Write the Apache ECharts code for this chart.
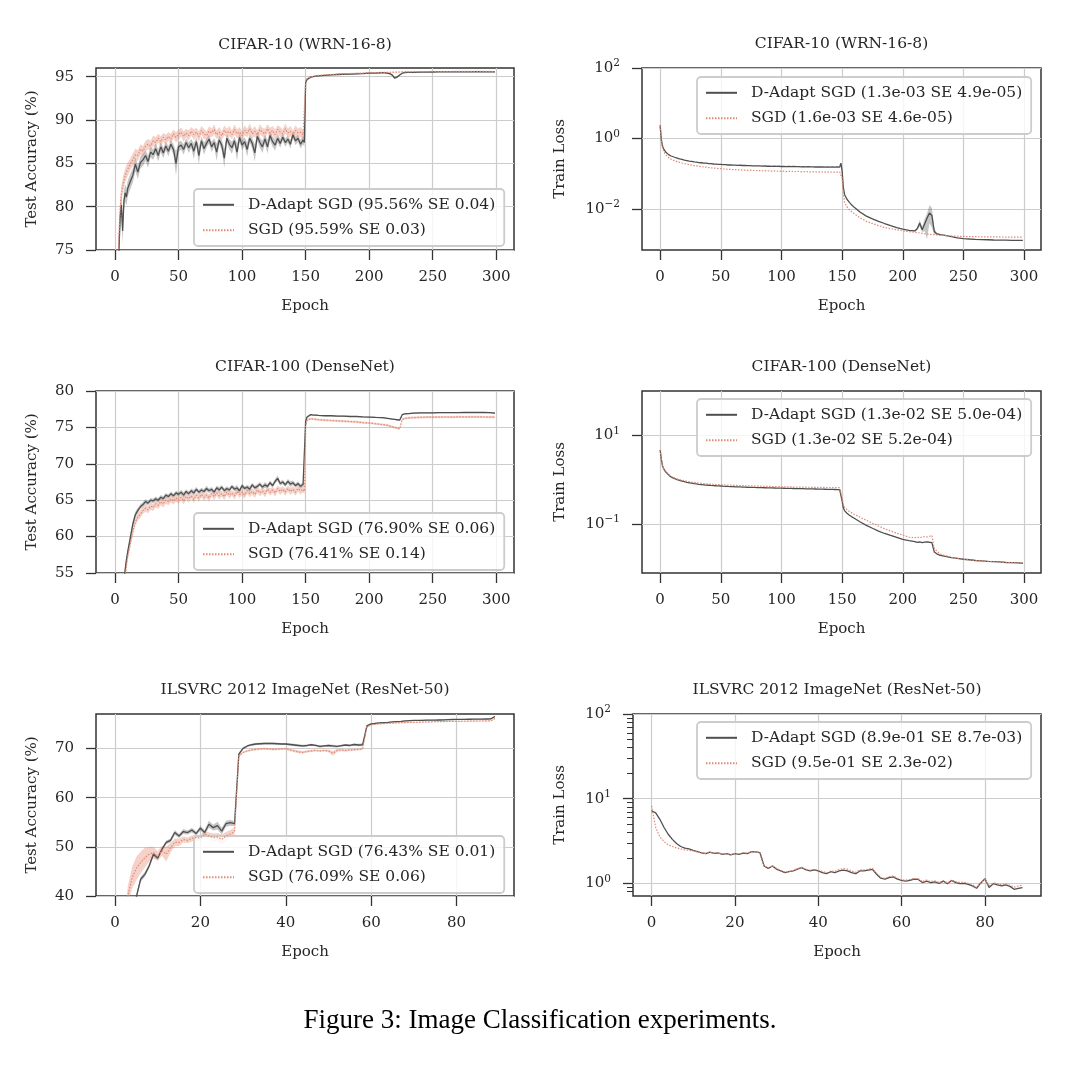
<!DOCTYPE html>
<html><head><meta charset="utf-8">
<script src="https://cdn.jsdelivr.net/npm/echarts@6/dist/echarts.min.js"></script>
<style>html,body{margin:0;padding:0;background:#fff}#c{width:1080px;height:1066px}</style>
</head><body><div id="c"></div><script>
// ---------------- DATA ----------------
const cifarEpochs = [0,1,2,3,4,5,6,7,8,9,10,
12,14,16,18,20,22,24,26,28,30,32,34,36,38,40,42,44,46,48,
50,52,54,56,58,60,62,64,66,68,70,72,74,76,78,80,82,84,86,88,
90,92,94,96,98,100,102,104,106,108,110,112,114,116,118,120,122,124,126,128,
130,132,134,136,138,140,142,144,146,148,
149,150,151,152,154,156,158,160,
165,170,175,180,185,190,195,200,205,
210,212,214,216,218,220,222,224,226,228,
231,235,
240,245,250,255,260,265,270,275,280,285,290,295,299];

// CIFAR-10 test accuracy
const c10AccDadapt = [40,55,66,74.5,78.6,80.2,77.2,80.6,81.6,81.1,82.1,
82.9,83.6,84.9,84.0,85.1,85.4,85.9,85.2,86.3,86.0,86.7,85.9,86.9,86.2,87.0,86.4,87.2,86.6,85.0,
86.9,87.1,86.6,87.4,86.8,87.3,86.4,87.5,85.9,87.6,86.7,87.3,87.8,86.9,87.4,86.3,87.7,87.1,85.6,87.9,
87.2,86.8,87.6,86.3,88.0,87.1,87.5,86.6,87.9,87.3,86.2,88.1,87.4,86.9,87.8,86.9,88.2,87.5,87.1,87.9,
87.3,88.0,87.4,87.8,87.2,88.3,87.6,87.9,87.2,87.7,
87.4,94.3,94.65,94.8,94.95,95.0,95.05,95.1,
95.15,95.2,95.25,95.28,95.3,95.33,95.36,95.4,95.42,
95.45,95.45,95.42,95.35,95.2,94.85,94.95,95.2,95.4,95.48,
95.5,95.5,
95.52,95.53,95.54,95.55,95.55,95.55,95.56,95.56,95.56,95.57,95.56,95.56,95.56];
const c10AccDadaptSE = [1.5,1.5,1.5,1.4,1.3,1.2,1.5,1.2,1.0,1.0,0.9,
0.9,0.8,0.8,0.8,0.7,0.7,0.6,0.7,0.6,0.6,0.6,0.7,0.6,0.6,0.5,0.6,0.5,0.6,1.4,
0.6,0.5,0.6,0.5,0.6,0.5,0.9,0.5,1.0,0.5,0.7,0.5,0.5,0.6,0.5,1.0,0.5,0.6,1.1,0.5,
0.6,0.7,0.5,1.0,0.5,0.6,0.5,0.8,0.5,0.6,1.0,0.5,0.6,0.7,0.5,0.8,0.5,0.6,0.6,0.5,
0.5,0.4,0.5,0.4,0.5,0.4,0.5,0.4,0.5,0.5,
0.5,0.2,0.1,0.08,0.06,0.05,0.05,0.04,
0.04,0.04,0.04,0.04,0.04,0.04,0.04,0.04,0.04,
0.04,0.04,0.05,0.06,0.1,0.15,0.12,0.08,0.05,0.04,
0.04,0.04,
0.04,0.04,0.04,0.04,0.04,0.04,0.04,0.04,0.04,0.04,0.04,0.04,0.04];
const c10AccSgd = [45,62,71,76.2,79.6,81.5,82.3,83.0,83.6,84.0,84.3,
84.9,85.4,86.0,85.9,86.6,86.4,87.0,87.2,87.0,87.6,87.4,87.9,87.5,88.0,87.7,88.1,87.8,88.4,88.0,
88.3,88.6,88.1,88.5,88.2,88.7,88.3,88.6,88.1,88.8,88.4,88.2,88.7,88.5,88.9,88.3,88.6,88.2,88.8,88.5,
88.7,88.3,88.9,88.4,88.6,88.2,88.8,88.5,89.0,88.4,88.7,88.3,88.9,88.6,88.4,89.0,88.5,88.8,88.3,88.9,
88.6,88.4,89.0,88.5,88.7,88.3,88.8,88.5,88.6,88.3,
88.4,94.4,94.75,94.9,95.0,95.05,95.1,95.15,
95.2,95.25,95.3,95.33,95.36,95.4,95.42,95.45,95.47,
95.5,95.5,95.5,95.51,95.52,95.52,95.53,95.54,95.55,95.55,
95.56,95.57,
95.58,95.58,95.59,95.59,95.59,95.6,95.6,95.6,95.6,95.6,95.6,95.6,95.59];
const c10AccSgdSE = [2.0,2.0,1.8,1.6,1.2,1.0,0.9,0.9,0.8,0.8,0.8,
0.7,0.7,0.7,0.6,0.6,0.6,0.6,0.6,0.6,0.6,0.6,0.5,0.6,0.5,0.6,0.5,0.6,0.5,0.6,
0.6,0.5,0.6,0.5,0.6,0.5,0.6,0.5,0.6,0.5,0.6,0.5,0.6,0.5,0.6,0.5,0.6,0.5,0.6,0.5,
0.6,0.5,0.6,0.5,0.6,0.5,0.6,0.5,0.6,0.5,0.6,0.5,0.6,0.5,0.6,0.5,0.6,0.5,0.6,0.5,
0.6,0.5,0.6,0.5,0.6,0.5,0.6,0.5,0.6,0.5,
0.5,0.15,0.08,0.06,0.05,0.04,0.04,0.04,
0.03,0.03,0.03,0.03,0.03,0.03,0.03,0.03,0.03,
0.03,0.03,0.03,0.03,0.03,0.03,0.03,0.03,0.03,0.03,
0.03,0.03,
0.03,0.03,0.03,0.03,0.03,0.03,0.03,0.03,0.03,0.03,0.03,0.03,0.03];

// CIFAR-10 train loss
const c10LossDadapt = [2.38,0.93,0.6,0.5,0.44,0.4,0.37,0.35,0.33,0.32,0.31,
0.295,0.28,0.266,0.256,0.245,0.238,0.23,0.225,0.218,0.214,0.208,0.206,0.201,0.2,0.195,0.194,0.19,0.189,0.186,
0.185,0.182,0.182,0.178,0.179,0.176,0.177,0.174,0.175,0.172,0.173,0.17,0.171,0.168,0.169,0.167,0.168,0.165,0.167,0.164,
0.166,0.163,0.165,0.162,0.164,0.161,0.163,0.16,0.162,0.159,0.161,0.159,0.16,0.158,0.16,0.157,0.159,0.157,0.158,0.156,
0.158,0.156,0.157,0.155,0.157,0.155,0.156,0.154,0.156,0.155,
0.2,0.12,0.042,0.026,0.019,0.0155,0.013,0.0112,
0.0081,0.0063,0.0053,0.0045,0.0039,0.0034,0.003,0.0027,0.0025,
0.0024,0.0028,0.004,0.0026,0.0038,0.0055,0.0078,0.0066,0.0023,0.002,
0.0019,0.0018,
0.00165,0.00152,0.00146,0.00142,0.00139,0.00137,0.00135,0.00133,0.00132,0.00131,0.0013,0.0013,0.00129];
const c10LossSgd = [2.3,0.85,0.55,0.43,0.37,0.33,0.31,0.29,0.27,0.26,0.25,
0.235,0.222,0.212,0.203,0.195,0.188,0.182,0.177,0.171,0.168,0.163,0.16,0.156,0.154,0.15,0.148,0.145,0.144,0.141,
0.14,0.137,0.137,0.134,0.134,0.131,0.132,0.129,0.13,0.127,0.128,0.125,0.127,0.124,0.125,0.123,0.124,0.121,0.123,0.12,
0.122,0.119,0.121,0.118,0.12,0.117,0.119,0.116,0.118,0.116,0.117,0.115,0.117,0.114,0.116,0.114,0.115,0.113,0.115,0.113,
0.114,0.112,0.114,0.112,0.113,0.111,0.113,0.111,0.112,0.112,
0.112,0.075,0.027,0.016,0.0115,0.0095,0.0083,0.0074,
0.0056,0.0045,0.0039,0.0034,0.003,0.0028,0.0026,0.0024,0.0023,
0.0022,0.00215,0.0021,0.00205,0.002,0.00197,0.00194,0.0019,0.00187,0.00184,
0.0018,0.00177,
0.00173,0.0017,0.00168,0.00166,0.00165,0.00164,0.00163,0.00162,0.00162,0.00161,0.00161,0.0016,0.0016];
const c10LossBandEpochs = [205,210,212,214,216,218,220,222,224,226,228];
const c10LossDadaptLo = [0.0024,0.0023,0.0026,0.0032,0.0022,0.0024,0.0014,0.004,0.003,0.0019,0.0019];
const c10LossDadaptHi = [0.0026,0.0025,0.003,0.005,0.0031,0.0052,0.0075,0.0128,0.011,0.0028,0.0021];

// CIFAR-100 test accuracy
const c100AccDadapt = [12,20,28,35,41,46,50,53,55.5,56.8,57.9,
59.8,61.7,63.0,63.6,64.1,64.4,64.8,64.6,65.0,64.9,65.2,65.0,65.4,65.2,65.7,65.5,65.9,65.6,66.0,
65.8,66.1,65.7,66.2,65.9,66.3,66.0,66.5,66.1,66.4,66.2,66.6,66.3,66.5,66.1,66.7,66.4,66.8,66.3,66.6,
66.4,66.9,66.5,66.7,66.3,67.0,66.6,66.8,66.5,67.1,66.7,66.9,67.2,66.8,67.1,66.9,67.4,67.0,67.6,68.0,
67.3,67.5,67.1,67.6,67.2,67.4,67.0,67.3,66.9,67.2,
67.0,75.8,76.4,76.6,76.75,76.7,76.68,76.65,
76.6,76.6,76.55,76.55,76.5,76.5,76.45,76.42,76.38,
76.35,76.3,76.25,76.2,76.15,76.1,76.05,76.0,76.75,76.85,
76.9,76.95,
77.0,77.0,77.0,77.02,77.03,77.03,77.04,77.05,77.05,77.05,77.05,77.04,76.95];
const c100AccDadaptSE = [1,1,1,1,1,0.8,0.8,0.6,0.5,0.5,0.5,
0.5,0.45,0.4,0.4,0.35,0.35,0.35,0.3,0.3,0.3,0.3,0.3,0.3,0.3,0.3,0.3,0.3,0.3,0.3,
0.3,0.3,0.4,0.3,0.3,0.3,0.4,0.3,0.3,0.3,0.3,0.4,0.3,0.3,0.3,0.3,0.4,0.3,0.3,0.3,
0.3,0.3,0.3,0.4,0.3,0.3,0.3,0.3,0.4,0.3,0.3,0.3,0.3,0.3,0.4,0.3,0.3,0.3,0.3,0.4,
0.3,0.3,0.3,0.3,0.4,0.3,0.3,0.3,0.3,0.3,
0.3,0.2,0.12,0.1,0.08,0.08,0.08,0.08,
0.08,0.08,0.08,0.08,0.08,0.08,0.08,0.08,0.08,
0.08,0.08,0.08,0.08,0.08,0.08,0.08,0.08,0.08,0.08,
0.08,0.08,
0.08,0.08,0.08,0.08,0.08,0.08,0.08,0.08,0.08,0.08,0.08,0.08,0.08];
const c100AccSgd = [10,18,26,33,39,44,48,51.5,54.5,56.0,57.3,
59.0,60.7,62.0,62.7,63.1,63.6,63.9,63.7,64.2,64.0,64.5,64.3,64.8,64.5,65.0,64.8,65.2,64.9,65.3,
65.0,65.4,64.9,65.5,65.2,65.6,65.1,65.7,65.3,65.8,65.4,65.7,65.3,65.9,65.5,66.0,65.6,65.9,65.5,66.1,
65.7,66.0,65.6,66.2,65.8,66.1,65.7,66.3,65.9,66.2,65.8,66.4,66.0,66.3,65.9,66.5,66.1,66.4,66.0,66.6,
66.2,66.5,66.1,66.6,66.2,66.5,66.1,66.6,66.3,66.5,
66.2,75.2,75.9,76.1,76.2,76.15,76.1,76.05,
76.0,75.95,75.9,75.85,75.8,75.75,75.65,75.6,75.5,
75.4,75.35,75.3,75.2,75.1,75.0,74.9,74.8,76.1,76.25,
76.3,76.35,
76.38,76.4,76.4,76.42,76.43,76.42,76.44,76.43,76.45,76.44,76.43,76.42,76.41];
const c100AccSgdSE = [1,1,1,1,1,1,0.9,0.8,0.7,0.6,0.6,
0.6,0.6,0.5,0.5,0.5,0.5,0.5,0.5,0.5,0.5,0.5,0.5,0.5,0.5,0.5,0.5,0.5,0.5,0.5,
0.5,0.4,0.5,0.4,0.5,0.4,0.5,0.4,0.5,0.4,0.5,0.4,0.5,0.4,0.5,0.4,0.5,0.4,0.5,0.4,
0.5,0.4,0.5,0.4,0.5,0.4,0.5,0.4,0.5,0.4,0.5,0.4,0.5,0.4,0.5,0.4,0.5,0.4,0.5,0.4,
0.5,0.4,0.5,0.4,0.5,0.4,0.5,0.4,0.5,0.4,
0.4,0.2,0.15,0.15,0.15,0.15,0.15,0.15,
0.15,0.15,0.15,0.15,0.15,0.15,0.15,0.15,0.15,
0.15,0.15,0.15,0.15,0.15,0.15,0.15,0.15,0.15,0.15,
0.15,0.15,
0.15,0.15,0.15,0.15,0.15,0.15,0.15,0.15,0.15,0.15,0.15,0.15,0.15];

// CIFAR-100 train loss
const c100LossDadapt = [4.67,2.88,2.03,1.75,1.57,1.45,1.36,1.27,1.2,1.15,1.11,
1.05,1.0,0.96,0.93,0.9,0.87,0.85,0.83,0.81,0.8,0.785,0.775,0.765,0.755,0.748,0.74,0.735,0.728,0.722,
0.718,0.712,0.708,0.703,0.699,0.695,0.69,0.687,0.684,0.68,0.677,0.674,0.672,0.669,0.666,0.664,0.661,0.659,0.657,0.655,
0.652,0.65,0.648,0.646,0.644,0.642,0.64,0.638,0.636,0.634,0.632,0.63,0.628,0.626,0.624,0.622,0.62,0.618,0.617,0.615,
0.613,0.611,0.609,0.607,0.605,0.603,0.601,0.599,0.597,0.595,
0.66,0.33,0.234,0.2,0.175,0.158,0.145,0.135,
0.111,0.093,0.08,0.069,0.061,0.055,0.05,0.045,0.042,
0.04,0.0385,0.0392,0.0378,0.0388,0.0396,0.0387,0.038,0.0232,0.0212,
0.0195,0.0185,
0.0174,0.0167,0.016,0.0156,0.015,0.0147,0.0143,0.0141,0.0139,0.0135,0.0134,0.0132,0.013];
const c100LossSgd = [4.7,2.9,2.05,1.78,1.6,1.48,1.39,1.31,1.24,1.19,1.15,
1.09,1.04,1.0,0.97,0.945,0.92,0.9,0.88,0.865,0.85,0.838,0.826,0.815,0.806,0.798,0.79,0.784,0.778,0.772,
0.768,0.762,0.758,0.753,0.749,0.745,0.741,0.737,0.734,0.731,0.728,0.725,0.722,0.719,0.717,0.714,0.712,0.71,0.707,0.705,
0.703,0.701,0.699,0.697,0.695,0.693,0.691,0.689,0.687,0.685,0.683,0.681,0.68,0.678,0.677,0.675,0.674,0.672,0.671,0.67,
0.669,0.668,0.667,0.666,0.665,0.664,0.663,0.662,0.661,0.66,
0.66,0.39,0.278,0.24,0.21,0.19,0.178,0.166,
0.141,0.121,0.104,0.09,0.078,0.069,0.062,0.056,0.0505,
0.049,0.0505,0.0488,0.051,0.0515,0.0508,0.0528,0.055,0.028,0.0245,
0.021,0.0195,
0.0178,0.0168,0.016,0.0155,0.015,0.0147,0.0144,0.0141,0.0138,0.0136,0.0134,0.0132,0.013];

// ImageNet
const inetEpochs = [0,1,2,3,4,5,6,7,8,9,10,11,12,13,14,15,16,17,18,19,20,21,22,23,24,25,26,27,28,29,
30,31,32,33,34,35,36,37,38,39,40,41,42,43,44,45,46,47,48,49,50,51,52,53,54,55,56,57,58,59,
60,61,62,63,64,65,66,67,68,69,70,71,72,73,74,75,76,77,78,79,80,81,82,83,84,85,86,87,88,89];
const inetAccDadapt = [5,12,20,27,33,39.8,43.4,44.4,46.1,48.5,
47.7,49.5,50.9,51.3,52.9,52.2,53.1,52.9,53.4,52.7,
53.8,52.9,54.6,53.9,54.3,53.2,54.7,54.9,54.7,68.85,
70.0,70.5,70.75,70.9,70.95,71.0,71.0,71.0,70.95,70.9,
70.9,70.8,70.7,70.6,70.5,70.6,70.75,70.6,70.4,70.5,
70.6,70.5,70.4,70.55,70.7,70.6,70.8,70.7,70.75,74.6,
75.0,75.1,75.2,75.25,75.3,75.4,75.45,75.5,75.6,75.65,
75.7,75.7,75.72,75.74,75.75,75.76,75.78,75.8,75.85,75.88,
75.9,75.9,75.92,75.93,75.94,75.95,75.96,75.98,76.0,76.5];
const inetAccDadaptSE = [0.5,0.5,0.5,0.5,0.5,0.5,0.5,0.5,0.5,0.5,
0.4,0.4,0.4,0.4,0.5,0.4,0.5,0.4,0.5,0.4,
0.5,0.5,0.7,0.6,0.8,0.7,0.6,0.6,0.5,0.3,
0.2,0.2,0.2,0.2,0.2,0.2,0.2,0.2,0.2,0.2,
0.2,0.2,0.25,0.2,0.25,0.2,0.2,0.2,0.25,0.2,
0.2,0.25,0.2,0.2,0.2,0.2,0.2,0.25,0.3,0.2,
0.1,0.1,0.1,0.1,0.1,0.1,0.1,0.1,0.1,0.1,
0.1,0.1,0.1,0.1,0.1,0.1,0.1,0.1,0.1,0.1,
0.1,0.1,0.1,0.1,0.1,0.1,0.1,0.1,0.1,0.1];
const inetAccSgd = [10,22,32,40.0,43.7,45.6,46.8,47.8,48.5,48.8,
48.1,49.2,48.5,49.8,50.9,50.9,51.5,51.3,51.7,51.9,
51.8,52.6,52.2,51.9,52.0,51.5,52.2,52.6,53.1,68.5,
69.2,69.5,69.7,69.8,69.9,69.95,69.9,69.8,69.85,69.9,
69.95,69.7,69.5,69.3,69.2,69.4,69.5,69.6,69.5,69.6,
69.5,69.0,69.6,69.7,69.6,69.7,69.75,69.8,69.9,74.4,
74.8,74.9,75.0,75.05,75.1,75.15,75.2,75.22,75.25,75.28,
75.3,75.33,75.36,75.38,75.4,75.43,75.45,75.47,75.48,75.5,
75.5,75.52,75.53,75.55,75.56,75.58,75.58,75.6,75.6,76.1];
const inetAccSgdSE = [2,2,2,2,2.2,2.4,2.2,2.0,1.5,1.2,
1.0,1.0,1.5,1.0,0.8,0.8,0.6,0.6,0.6,0.6,
0.6,0.6,0.7,0.8,0.8,1.0,0.8,0.8,0.8,0.3,
0.2,0.2,0.2,0.2,0.2,0.2,0.2,0.2,0.2,0.2,
0.2,0.25,0.3,0.3,0.3,0.25,0.25,0.2,0.2,0.2,
0.3,0.5,0.3,0.25,0.25,0.2,0.2,0.2,0.2,0.2,
0.1,0.1,0.1,0.1,0.1,0.1,0.1,0.1,0.1,0.1,
0.1,0.1,0.1,0.1,0.1,0.1,0.1,0.1,0.1,0.1,
0.1,0.1,0.1,0.1,0.1,0.1,0.1,0.1,0.1,0.1];
const inetLossDadapt = [7.2,6.8,5.7,4.56,3.8,3.3,2.95,2.72,2.6,2.55,
2.45,2.37,2.29,2.24,2.33,2.26,2.28,2.2,2.24,2.16,
2.24,2.2,2.27,2.24,2.37,2.35,2.31,1.6,1.5,1.6,
1.47,1.4,1.34,1.37,1.4,1.47,1.53,1.45,1.4,1.44,
1.4,1.34,1.3,1.37,1.34,1.4,1.43,1.4,1.34,1.3,
1.4,1.4,1.43,1.46,1.28,1.15,1.12,1.17,1.19,1.12,
1.08,1.06,1.08,1.12,1.11,1.02,1.06,1.02,1.04,0.996,
1.06,0.988,1.08,1.02,0.99,1.0,0.97,0.93,0.873,1.01,
1.13,0.89,0.99,0.96,0.93,0.96,0.92,0.85,0.87,0.89];
const inetLossSgd = [8.2,4.56,3.53,3.11,2.84,2.72,2.62,2.55,2.48,2.45,
2.41,2.35,2.3,2.26,2.31,2.27,2.3,2.22,2.25,2.18,
2.26,2.22,2.3,2.27,2.36,2.35,2.32,1.62,1.52,1.62,
1.5,1.42,1.36,1.38,1.42,1.49,1.55,1.47,1.43,1.46,
1.43,1.38,1.33,1.4,1.38,1.45,1.5,1.47,1.4,1.35,
1.44,1.44,1.47,1.5,1.32,1.18,1.14,1.2,1.22,1.15,
1.1,1.09,1.11,1.14,1.13,1.05,1.09,1.05,1.07,1.02,
1.08,1.01,1.1,1.05,1.02,1.03,1.0,0.96,0.9,1.03,
1.12,0.93,1.01,0.99,0.96,0.99,0.95,0.9,0.93,0.95];

// tick labels
const cifarEpochTicks = [0,50,100,150,200,250,300];
const inetEpochTicks = [0,20,40,60,80];
const c10AccTicks = [75,80,85,90,95];
const c100AccTicks = [55,60,65,70,75,80];
const inetAccTicks = [40,50,60,70];
const c10LossTicks = [0.01,1,100];
const c100LossTicks = [0.1,10];
const inetLossTicks = [1,10,100];
const inetLossMinorTicks = [0.8,0.9,2,3,4,5,6,7,8,9,20,30,40,50,60,70,80,90];

// texts
const titles = ['CIFAR-10 (WRN-16-8)','CIFAR-10 (WRN-16-8)','CIFAR-100 (DenseNet)','CIFAR-100 (DenseNet)','ILSVRC 2012 ImageNet (ResNet-50)','ILSVRC 2012 ImageNet (ResNet-50)'];
const legendNames = [
  ['D-Adapt SGD (95.56% SE 0.04)','SGD (95.59% SE 0.03)'],
  ['D-Adapt SGD (1.3e-03 SE 4.9e-05)','SGD (1.6e-03 SE 4.6e-05)'],
  ['D-Adapt SGD (76.90% SE 0.06)','SGD (76.41% SE 0.14)'],
  ['D-Adapt SGD (1.3e-02 SE 5.0e-04)','SGD (1.3e-02 SE 5.2e-04)'],
  ['D-Adapt SGD (76.43% SE 0.01)','SGD (76.09% SE 0.06)'],
  ['D-Adapt SGD (8.9e-01 SE 8.7e-03)','SGD (9.5e-01 SE 2.3e-02)']
];
const caption = 'Figure 3: Image Classification experiments.';

// ---------------- CHECK ----------------
(function(){
  const chk = {c10AccDadapt,c10AccDadaptSE,c10AccSgd,c10AccSgdSE,c10LossDadapt,c10LossSgd,c100AccDadapt,c100AccDadaptSE,c100AccSgd,c100AccSgdSE,c100LossDadapt,c100LossSgd};
  const bad=[];
  for (const k in chk) if (chk[k].length!==cifarEpochs.length) bad.push(k+':'+chk[k].length);
  const chk2 = {inetAccDadapt,inetAccDadaptSE,inetAccSgd,inetAccSgdSE,inetLossDadapt,inetLossSgd};
  for (const k in chk2) if (chk2[k].length!==inetEpochs.length) bad.push(k+':'+chk2[k].length);
  if (bad.length) throw new Error('length mismatch '+cifarEpochs.length+' '+bad.join(','));
})();

// ---------------- STYLE / LAYOUT ----------------
const SERIF = '"DejaVu Serif", serif';
const TXT = '#262626';
const C_D = '#4f4f4f', C_D_BAND = 'rgba(80,80,80,0.33)';
const C_S = '#e08a72', C_S_BAND = 'rgba(226,138,114,0.38)';
const FS = 15;

const panels = [
  {grid:{left:96,top:68,width:418,height:182}, titleX:305, titleTop:37,
   x:{min:-14.95,max:313.95,ticks:cifarEpochTicks}, y:{type:'value',min:75,max:96,ticks:c10AccTicks,name:'Test Accuracy (%)',gap:56},
   legend:{left:194,top:189}, ep:cifarEpochs, d:c10AccDadapt, dSE:c10AccDadaptSE, s:c10AccSgd, sSE:c10AccSgdSE},
  {grid:{left:642,top:68,width:399,height:182}, titleX:841.5, titleTop:36,
   x:{min:-14.95,max:313.95,ticks:cifarEpochTicks}, y:{type:'log',min:0.000692,max:100,ticks:c10LossTicks,name:'Train Loss',gap:74},
   legend:{left:697,top:77}, ep:cifarEpochs, d:c10LossDadapt, s:c10LossSgd,
   dBand:{ep:c10LossBandEpochs, lo:c10LossDadaptLo, hi:c10LossDadaptHi}},
  {grid:{left:96,top:391,width:418,height:182}, titleX:305, titleTop:359,
   x:{min:-14.95,max:313.95,ticks:cifarEpochTicks}, y:{type:'value',min:55,max:80,ticks:c100AccTicks,name:'Test Accuracy (%)',gap:56},
   legend:{left:194,top:513}, ep:cifarEpochs, d:c100AccDadapt, dSE:c100AccDadaptSE, s:c100AccSgd, sSE:c100AccSgdSE},
  {grid:{left:642,top:391,width:399,height:182}, titleX:841.5, titleTop:359,
   x:{min:-14.95,max:313.95,ticks:cifarEpochTicks}, y:{type:'log',min:0.00783,max:100,ticks:c100LossTicks,name:'Train Loss',gap:74},
   legend:{left:697,top:399}, ep:cifarEpochs, d:c100LossDadapt, s:c100LossSgd},
  {grid:{left:96,top:714,width:418,height:182}, titleX:305, titleTop:682,
   x:{min:-4.45,max:93.45,ticks:inetEpochTicks}, y:{type:'value',min:40,max:77,ticks:inetAccTicks,name:'Test Accuracy (%)',gap:56},
   legend:{left:194,top:836}, ep:inetEpochs, d:inetAccDadapt, dSE:inetAccDadaptSE, s:inetAccSgd, sSE:inetAccSgdSE},
  {grid:{left:633,top:714,width:408,height:182}, titleX:837, titleTop:682,
   x:{min:-4.45,max:93.45,ticks:inetEpochTicks}, y:{type:'log',min:0.708,max:100,ticks:inetLossTicks,minor:inetLossMinorTicks,name:'Train Loss',gap:65},
   legend:{left:697,top:722}, ep:inetEpochs, d:inetLossDadapt, s:inetLossSgd}
];

const RICH = {
  b:{fontFamily:SERIF,fontSize:FS,color:TXT},
  e:{fontFamily:SERIF,fontSize:10.5,color:TXT,padding:[0,0,9,0]}
};
function supLabel(v){
  const e = Math.round(Math.log10(v));
  const es = e < 0 ? '\u2212' + (-e) : '' + e;
  return '{b|10}{e|' + es + '}';
}
const tickLine = {color:'#333',width:1.3};
const gridLine = {color:'#cccccc',width:1.2};

const option = {animation:false, backgroundColor:'#ffffff', textStyle:{fontFamily:SERIF},
  title:[], grid:[], xAxis:[], yAxis:[], legend:[], series:[]};

// shaded standard-error band: polygon through the axis scales (api.coord)
function bandSeries(id, ep, lo, hi, color, xi, yi, z){
  const data = ep.map((x,i)=>[x, lo[i], hi[i]]);
  return {type:'custom', name:id, xAxisIndex:xi, yAxisIndex:yi, silent:true, z:z, clip:true,
    encode:{x:0, y:[1,2]}, data:data,
    renderItem:function(params, api){
      if (params.dataIndex !== 0) return null;
      const up = data.map(d => api.coord([d[0], d[2]]));
      const dn = data.map(d => api.coord([d[0], d[1]])).reverse();
      const cs = params.coordSys;
      return {type:'polygon', shape:{points:up.concat(dn)}, style:{fill:color},
        clipPath:{type:'rect', shape:{x:cs.x, y:cs.y, width:cs.width, height:cs.height}}};
    }};
}

panels.forEach((p, gi) => {
  option.grid.push(Object.assign({show:true, borderColor:'#333', borderWidth:1.5, backgroundColor:'rgba(0,0,0,0)', containLabel:false, outerBoundsMode:'none'}, p.grid));
  option.title.push({text:titles[gi], left:p.titleX, top:p.titleTop, textAlign:'center', padding:0,
    textStyle:{fontFamily:SERIF, fontSize:15.5, fontWeight:'normal', color:TXT, lineHeight:16}});
  const xi = option.xAxis.length;
  option.xAxis.push({gridIndex:gi, type:'value', min:p.x.min, max:p.x.max,
    name:'Epoch', nameLocation:'middle', nameGap:49, nameTextStyle:{fontFamily:SERIF, fontSize:FS, color:TXT},
    axisLine:{show:false, onZero:false},
    axisTick:{show:true, length:10, lineStyle:tickLine, customValues:p.x.ticks},
    axisLabel:{customValues:p.x.ticks, margin:20, fontFamily:SERIF, fontSize:FS, color:TXT},
    splitLine:{show:true, lineStyle:gridLine}});
  const yi = option.yAxis.length;
  const isLog = p.y.type === 'log';
  const ya = {gridIndex:gi, type:p.y.type, position:'left', min:p.y.min, max:p.y.max,
    name:p.y.name, nameLocation:'middle', nameGap:p.y.gap, nameTextStyle:{fontFamily:SERIF, fontSize:FS, color:TXT},
    axisLine:{show:false, onZero:false},
    axisTick:{show:true, length:10, lineStyle:tickLine, customValues:p.y.ticks},
    axisLabel:{customValues:p.y.ticks, margin:22, fontFamily:SERIF, fontSize:FS, color:TXT},
    splitLine:{show:true, lineStyle:gridLine}};
  if (isLog) { ya.logBase = 10; ya.axisLabel.formatter = supLabel; ya.axisLabel.rich = RICH; }
  option.yAxis.push(ya);
  if (p.y.minor) {
    option.yAxis.push({gridIndex:gi, type:'log', logBase:10, position:'left', offset:0, min:p.y.min, max:p.y.max,
      axisLine:{show:false, onZero:false},
      axisTick:{show:true, length:6, lineStyle:{color:'#333',width:1}, customValues:p.y.minor},
      axisLabel:{show:false}, splitLine:{show:false}});
  }
  const [nD, nS] = legendNames[gi];
  if (p.dSE) option.series.push(bandSeries('bd'+gi, p.ep, p.d.map((v,i)=>v-p.dSE[i]), p.d.map((v,i)=>v+p.dSE[i]), C_D_BAND, xi, yi, 1));
  if (p.dBand) option.series.push(bandSeries('bd'+gi, p.dBand.ep, p.dBand.lo, p.dBand.hi, C_D_BAND, xi, yi, 1));
  if (p.sSE) option.series.push(bandSeries('bs'+gi, p.ep, p.s.map((v,i)=>v-p.sSE[i]), p.s.map((v,i)=>v+p.sSE[i]), C_S_BAND, xi, yi, 2));
  option.series.push({type:'line', name:nD, xAxisIndex:xi, yAxisIndex:yi, symbol:'none', silent:true, z:3,
    data:p.ep.map((x,i)=>[x, p.d[i]]), lineStyle:{color:C_D, width:1.3}, itemStyle:{color:C_D}});
  option.series.push({type:'line', name:nS, xAxisIndex:xi, yAxisIndex:yi, symbol:'none', silent:true, z:4,
    data:p.ep.map((x,i)=>[x, p.s[i]]), lineStyle:{color:C_S, width:1.2, type:[1.5,1.5]}, itemStyle:{color:C_S}});
  option.legend.push({orient:'vertical', left:p.legend.left, top:p.legend.top, data:[nD, nS],
    itemWidth:31, itemHeight:14, itemGap:9.4, padding:[7.8,9,7.8,8],
    backgroundColor:'rgba(255,255,255,0.8)', borderColor:'#cccccc', borderWidth:1.8, borderRadius:4,
    selectedMode:false, itemStyle:{opacity:0},
    textStyle:{fontFamily:SERIF, fontSize:15.5, color:TXT, lineHeight:14, padding:[0,0,0,9]}});
});

option.title.push({text:caption, left:540, top:1006, textAlign:'center', padding:0,
  textStyle:{fontFamily:'"Liberation Serif", serif', fontSize:27, fontWeight:'normal', color:'#000', lineHeight:30}});

const chart = echarts.init(document.getElementById('c'), null, {renderer:'canvas'});
chart.setOption(option);
</script></body></html>
